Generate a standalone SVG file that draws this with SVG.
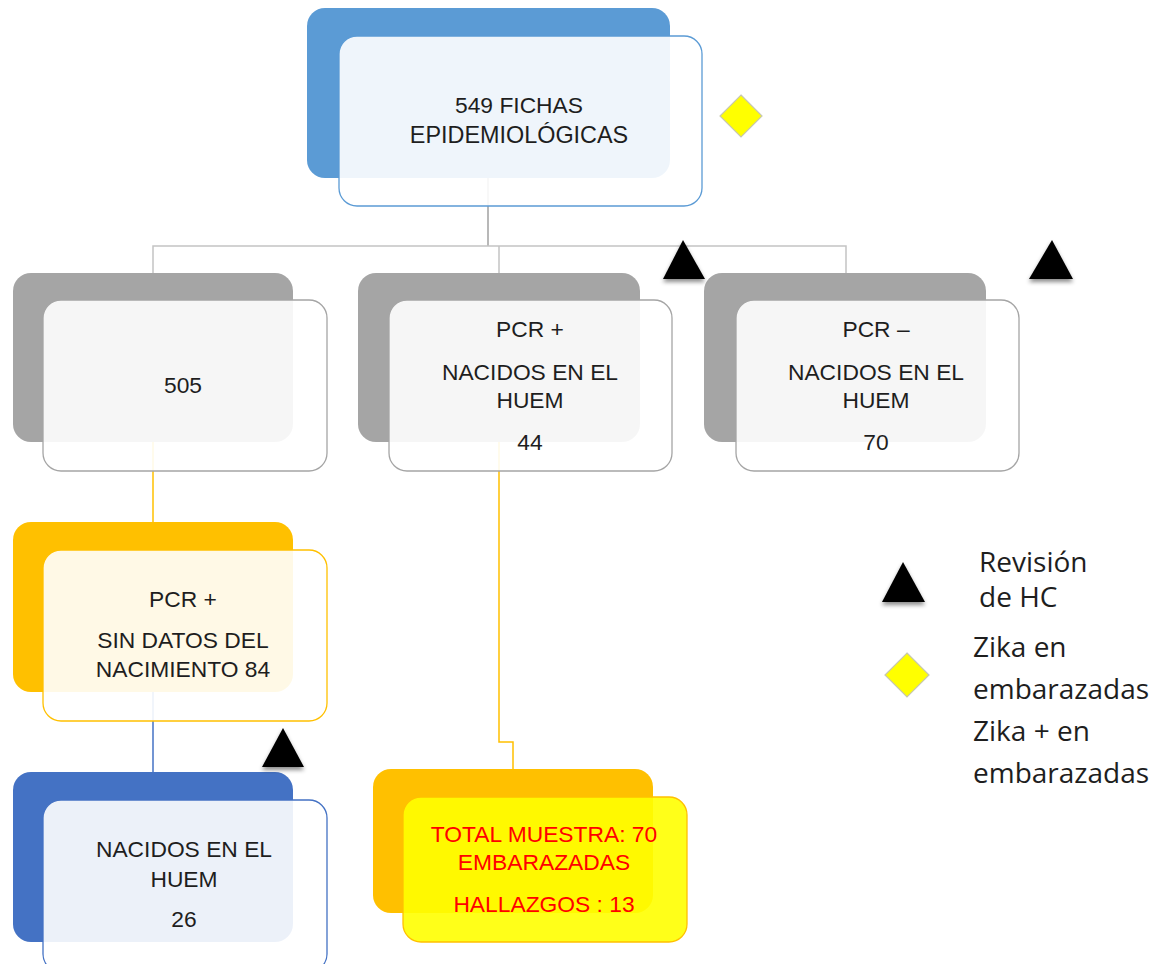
<svg xmlns="http://www.w3.org/2000/svg" width="1168" height="964" viewBox="0 0 1168 964">
<style>
text{font-family:"Liberation Sans",Arial,sans-serif;font-size:22.8px;fill:#1e1e1e;text-anchor:middle}
.red{fill:#ff0000}
.leg{font-family:"Open Sans","Liberation Sans",sans-serif;font-size:28px;text-anchor:start}
.front{fill:#fff;fill-opacity:0.9;stroke-width:1.3}
.conn{fill:none;stroke-width:1.5}
</style>
<defs>
<filter id="sh" x="-30%" y="-30%" width="160%" height="170%">
<feDropShadow dx="0" dy="3" stdDeviation="2" flood-color="#000" flood-opacity="0.45"/>
</filter>
</defs>
<rect width="1168" height="964" fill="#fff"/>
<g id="connectors">
<path class="conn" stroke="#a0a0a0" d="M488 178V246"/>
<path class="conn" stroke="#c4c4c4" d="M153 273V246H846V273M499 246V273"/>
<path class="conn" stroke="#ffc000" d="M153 441V522"/>
<path class="conn" stroke="#4472c4" d="M153 692V772"/>
<path class="conn" stroke="#ffc000" d="M499 441V742H513V769"/>
</g>
<g id="node-fichas">
<rect x="307" y="8" width="363" height="170" rx="18" fill="#5b9bd5"/>
<rect class="front" x="339" y="36" width="363" height="170" rx="18" stroke="#5b9bd5"/>
<text x="519" y="113">549 FICHAS</text>
<text x="519" y="143" style="font-size:23.4px">EPIDEMIOLÓGICAS</text>
</g>
<g id="node-505">
<rect x="13" y="273" width="280" height="169" rx="18" fill="#a5a5a5"/>
<rect class="front" x="43" y="300" width="284" height="171" rx="18" stroke="#a5a5a5"/>
<text x="183" y="393">505</text>
</g>
<g id="node-pcr-pos">
<rect x="358" y="273" width="282" height="169" rx="18" fill="#a5a5a5"/>
<rect class="front" x="389" y="300" width="283" height="171" rx="18" stroke="#a5a5a5"/>
<text x="530" y="337">PCR +</text>
<text x="530" y="380">NACIDOS EN EL</text>
<text x="530" y="408">HUEM</text>
<text x="530" y="450">44</text>
</g>
<g id="node-pcr-neg">
<rect x="704" y="273" width="282" height="169" rx="18" fill="#a5a5a5"/>
<rect class="front" x="736" y="300" width="283" height="171" rx="18" stroke="#a5a5a5"/>
<text x="876" y="337">PCR –</text>
<text x="876" y="380">NACIDOS EN EL</text>
<text x="876" y="408">HUEM</text>
<text x="876" y="450">70</text>
</g>
<g id="node-sin-datos">
<rect x="13" y="522" width="280" height="170" rx="18" fill="#ffc000"/>
<rect class="front" x="43" y="550" width="284" height="171" rx="18" stroke="#ffc000"/>
<text x="183" y="607">PCR +</text>
<text x="183" y="648">SIN DATOS DEL</text>
<text x="183" y="677">NACIMIENTO 84</text>
</g>
<g id="node-nacidos">
<rect x="13" y="772" width="280" height="170" rx="18" fill="#4472c4"/>
<rect class="front" x="43" y="800" width="284" height="172" rx="18" stroke="#4472c4"/>
<text x="184" y="857">NACIDOS EN EL</text>
<text x="184" y="887">HUEM</text>
<text x="184" y="927">26</text>
</g>
<g id="node-total">
<rect x="373" y="769" width="280" height="144" rx="18" fill="#ffc000"/>
<rect x="403" y="797" width="284" height="145" rx="18" fill="#ffff00" fill-opacity="0.9" stroke="#ffc000" stroke-width="1.3"/>
<text class="red" x="544" y="842">TOTAL MUESTRA: 70</text>
<text class="red" x="544" y="870">EMBARAZADAS</text>
<text class="red" x="544" y="912">HALLAZGOS : 13</text>
</g>
<g id="markers">
<polygon points="741,95 762,116 741,137 720,116" fill="#ffff00" stroke="#c8c8b0" stroke-width="1.2"/>
<polygon points="663,279 683,240 705,279" fill="#000" filter="url(#sh)"/>
<polygon points="1029,279 1052,240 1073,279" fill="#000" filter="url(#sh)"/>
<polygon points="262,767 283,728 304,767" fill="#000" filter="url(#sh)"/>
</g>
<g id="legend">
<polygon points="882,602 903,562 925,602" fill="#000" filter="url(#sh)"/>
<text class="leg" x="979" y="572">Revisión</text>
<text class="leg" x="979" y="607">de HC</text>
<polygon points="907,653 929,675 907,697 885,675" fill="#ffff00" stroke="#c8c8b0" stroke-width="1.2"/>
<text class="leg" x="973" y="657">Zika en</text>
<text class="leg" x="973" y="699">embarazadas</text>
<text class="leg" x="973" y="741">Zika + en</text>
<text class="leg" x="973" y="783">embarazadas</text>
</g>
</svg>
